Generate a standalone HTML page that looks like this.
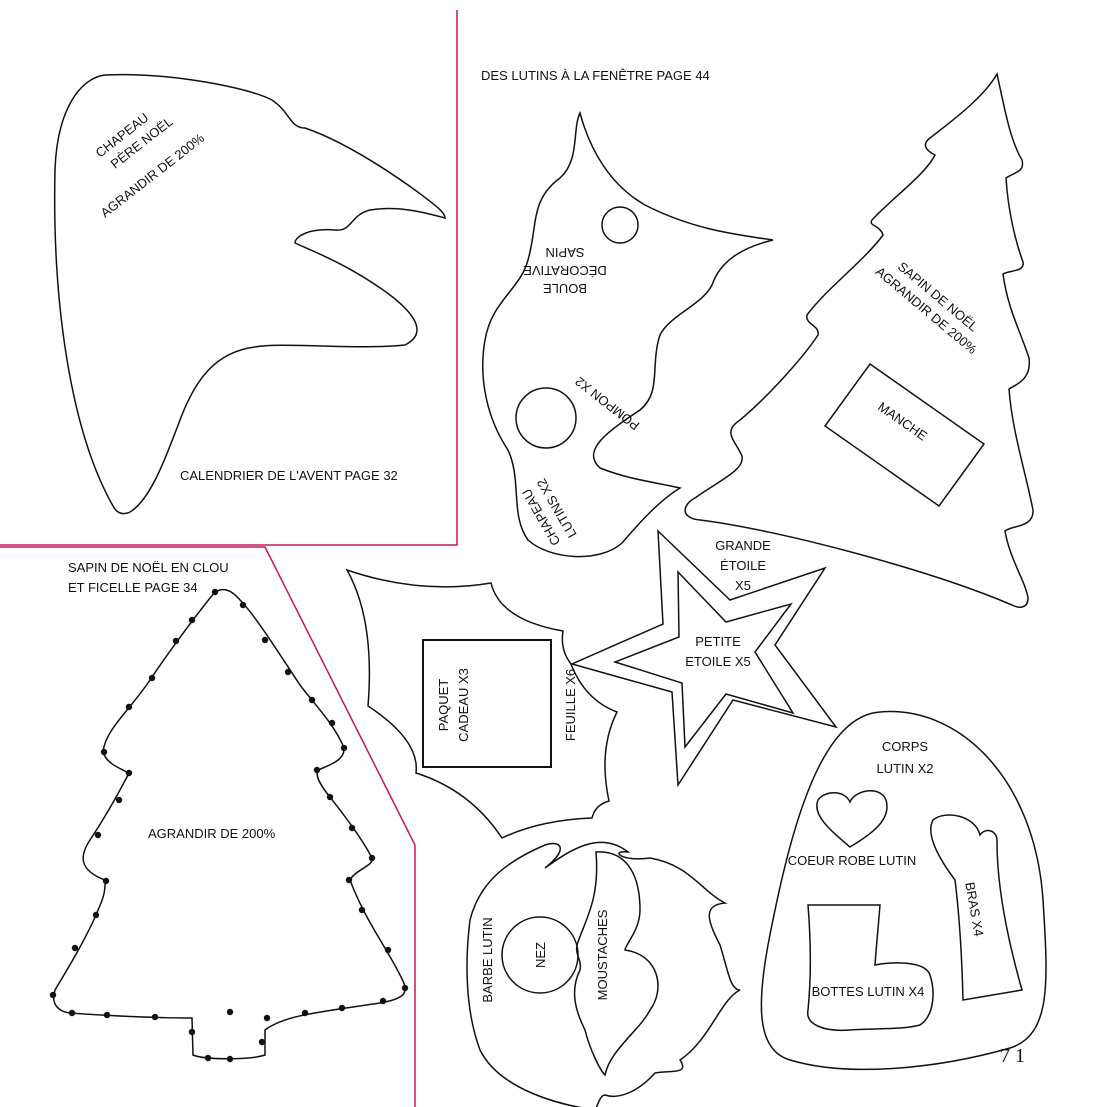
<!DOCTYPE html>
<html><head><meta charset="utf-8"><style>
html,body{margin:0;padding:0;background:#fff}
svg{display:block}
text{font-family:"Liberation Sans",sans-serif;font-size:13px;fill:#111}
</style></head><body>
<svg width="1107" height="1107" viewBox="0 0 1107 1107" xmlns="http://www.w3.org/2000/svg">
<g fill="none" stroke="#c2185b" stroke-width="1.5">
<path d="M457,10 V545 H0"/>
<path d="M0,547 H265 L415,845 V1107"/>
</g>
<g fill="none" stroke="#111" stroke-width="1.5">
<!-- Santa hat -->
<path d="M113,506 C70,430 52,300 55,170 C57,110 80,78 105,75 C170,72 250,88 272,100 C290,112 290,128 305,128 C340,140 380,165 415,190 C435,205 445,212 445,218 C430,214 400,205 370,210 C350,215 352,232 335,230 C310,228 295,236 295,243 C310,250 350,265 390,295 C420,318 425,335 405,345 C360,350 280,342 255,347 C215,352 195,380 180,420 C165,460 150,500 130,512 C122,516 116,512 113,506Z"/>
<!-- elf hat -->
<path d="M580,113 C590,150 610,185 645,205 C690,228 730,234 773,240 C740,248 720,262 712,285 C702,305 670,315 660,335 C650,365 662,392 640,410 C610,430 580,450 600,468 C630,480 660,483 680,488 C660,500 640,522 622,543 C600,563 550,560 528,540 C510,515 522,480 508,450 C488,420 478,380 485,340 C492,300 520,290 528,260 C538,225 530,200 560,178 C580,160 572,130 580,113Z"/>
<circle cx="620" cy="225" r="18"/>
<circle cx="546" cy="418" r="30"/>
<!-- big tree -->
<path d="M997,74 C1005,110 1010,140 1022,160 C1025,172 1015,172 1006,178 C1008,210 1015,240 1023,262 C1025,272 1010,270 1003,274 C1008,310 1020,330 1029,358 C1032,380 1015,385 1009,389 C1012,430 1025,470 1033,510 C1034,528 1012,525 1005,531 C1010,560 1025,580 1028,598 C1028,608 1020,609 1012,605 C930,570 780,530 700,520 C680,518 682,505 695,498 C720,480 745,470 742,456 C735,440 722,432 740,420 C770,395 805,355 818,335 C820,325 805,325 807,315 C825,290 865,260 883,235 C880,225 868,226 872,220 C890,200 925,175 935,155 C925,150 922,144 930,138 C960,115 985,95 997,74Z"/>
<path d="M870,364 L984,444 L939,506 L825,426Z"/>
<!-- stars -->
<path d="M658,531 L730,600 L825,568 L775,645 L836,727 L733,700 L678,785 L672,692 L572,664 L663,624Z"/>
<path d="M678,572 L726,622 L791,604 L755,652 L793,713 L726,694 L685,747 L682,683 L615,662 L679,637Z"/>
<!-- holly leaf -->
<path d="M347,570 Q420,595 491,583 Q500,620 563,631 Q560,650 571,664 Q585,700 617,712 Q598,750 609,801 Q595,805 592,818 Q540,820 502,838 Q470,790 416,773 Q420,740 368,706 Q375,620 347,570Z"/>
<rect x="423" y="640" width="128" height="127" stroke-width="2"/>
<!-- beard -->
<path d="M545,845 C560,840 570,848 545,868 C570,850 600,830 628,852 C610,850 620,862 650,858 C690,865 700,890 725,903 C700,905 710,925 720,945 C728,970 730,990 740,990 C720,1000 710,1040 680,1060 C690,1075 670,1070 655,1073 C640,1090 620,1100 605,1095 C600,1095 598,1105 595,1110 C560,1105 500,1090 480,1050 C465,1010 465,960 470,920 C480,880 510,860 545,845Z"/>
<path d="M596,852 C630,850 640,880 640,910 C640,930 625,945 625,950 C660,955 665,990 650,1010 C640,1030 610,1050 605,1075 C600,1070 590,1050 585,1030 C575,1010 570,990 580,970 C582,960 575,955 577,945 C585,920 600,900 596,852Z"/>
<circle cx="540" cy="955" r="38"/>
<!-- body -->
<path d="M880,712 C960,705 1035,780 1043,900 C1048,980 1052,1035 1010,1048 C940,1068 850,1078 790,1060 C755,1050 758,1000 768,945 C790,830 820,716 880,712Z"/>
<path d="M850,847 C830,830 812,815 818,800 C825,790 845,790 850,802 C855,790 880,785 886,800 C892,820 870,835 850,847Z"/>
<path d="M933,820 C945,810 975,815 980,835 C985,827 998,830 997,842 C997,880 1005,930 1022,990 L963,1000 C962,960 960,920 955,880 C940,860 925,835 933,820Z"/>
<path d="M808,905 L880,905 C878,930 876,950 875,965 C890,962 925,960 930,975 C935,990 935,1015 920,1025 C900,1030 880,1028 850,1030 C825,1032 805,1025 808,1010 C812,970 810,930 808,905Z"/>
<!-- dotted tree -->
<path d="M215,592 C200,610 170,650 150,680 C130,710 105,730 103,752 C108,768 130,770 128,775 C115,800 100,825 90,840 C80,855 78,870 105,880 C106,895 100,905 96,915 C85,940 70,965 55,990 C50,1005 60,1012 70,1013 C110,1016 160,1018 192,1018 L193,1055 C205,1060 250,1060 265,1055 L265,1030 C285,1015 320,1012 380,1003 C410,998 408,990 400,975 C385,945 365,920 350,880 C355,870 375,865 372,858 C360,835 340,810 330,797 C320,785 315,775 318,770 C330,765 345,760 344,748 C335,725 315,705 300,685 C280,655 255,615 240,600 C230,588 222,588 215,592Z"/>
</g>
<g fill="#111">
<circle cx="215" cy="592" r="3.2"/><circle cx="192" cy="620" r="3.2"/><circle cx="176" cy="641" r="3.2"/><circle cx="152" cy="678" r="3.2"/><circle cx="129" cy="707" r="3.2"/><circle cx="104" cy="752" r="3.2"/><circle cx="129" cy="773" r="3.2"/><circle cx="119" cy="800" r="3.2"/><circle cx="98" cy="835" r="3.2"/><circle cx="106" cy="881" r="3.2"/><circle cx="96" cy="915" r="3.2"/><circle cx="75" cy="948" r="3.2"/><circle cx="53" cy="995" r="3.2"/><circle cx="72" cy="1013" r="3.2"/><circle cx="107" cy="1015" r="3.2"/><circle cx="155" cy="1017" r="3.2"/><circle cx="192" cy="1032" r="3.2"/><circle cx="208" cy="1058" r="3.2"/><circle cx="230" cy="1059" r="3.2"/><circle cx="262" cy="1042" r="3.2"/><circle cx="230" cy="1012" r="3.2"/><circle cx="267" cy="1018" r="3.2"/><circle cx="305" cy="1013" r="3.2"/><circle cx="342" cy="1008" r="3.2"/><circle cx="383" cy="1001" r="3.2"/><circle cx="405" cy="988" r="3.2"/><circle cx="388" cy="950" r="3.2"/><circle cx="362" cy="910" r="3.2"/><circle cx="349" cy="880" r="3.2"/><circle cx="372" cy="858" r="3.2"/><circle cx="352" cy="828" r="3.2"/><circle cx="330" cy="797" r="3.2"/><circle cx="317" cy="770" r="3.2"/><circle cx="344" cy="748" r="3.2"/><circle cx="332" cy="723" r="3.2"/><circle cx="312" cy="700" r="3.2"/><circle cx="288" cy="672" r="3.2"/><circle cx="265" cy="640" r="3.2"/><circle cx="243" cy="605" r="3.2"/>
</g>
<text x="481" y="80">DES LUTINS À LA FENÊTRE PAGE 44</text>
<text x="180" y="480">CALENDRIER DE L'AVENT PAGE 32</text>
<text x="68" y="572">SAPIN DE NOËL EN CLOU</text>
<text x="68" y="592">ET FICELLE PAGE 34</text>
<text x="148" y="838">AGRANDIR DE 200%</text>
<g transform="translate(100,158) rotate(-38)"><text x="0" y="0">CHAPEAU</text><text x="5" y="18">PÈRE NOËL</text></g>
<text transform="translate(105,218) rotate(-38)">AGRANDIR DE 200%</text>
<g transform="translate(565,248) rotate(180)" text-anchor="middle"><text x="0" y="0">SAPIN</text><text x="0" y="-18">DÉCORATIVE</text><text x="0" y="-36">BOULE</text></g>
<text transform="translate(610,400) rotate(-142)" text-anchor="middle">POMPON X2</text>
<g transform="translate(545,515) rotate(-120)" text-anchor="middle"><text x="0" y="0">CHAPEAU</text><text x="0" y="18">LUTINS X2</text></g>
<g transform="translate(935,300) rotate(40)" text-anchor="middle"><text x="0" y="0">SAPIN DE NOËL</text><text x="0" y="18">AGRANDIR DE 200%</text></g>
<text transform="translate(900,425) rotate(35)" text-anchor="middle">MANCHE</text>
<g text-anchor="middle"><text x="743" y="550">GRANDE</text><text x="743" y="570">ÉTOILE</text><text x="743" y="590">X5</text>
<text x="718" y="646">PETITE</text><text x="718" y="666">ETOILE X5</text>
<text x="905" y="751">CORPS</text><text x="905" y="773">LUTIN X2</text>
<text x="852" y="865">COEUR ROBE LUTIN</text>
<text x="868" y="996">BOTTES LUTIN X4</text></g>
<g transform="translate(448,705) rotate(-90)" text-anchor="middle"><text x="0" y="0">PAQUET</text><text x="0" y="20">CADEAU X3</text></g>
<text transform="translate(575,705) rotate(-90)" text-anchor="middle">FEUILLE X6</text>
<text transform="translate(492,960) rotate(-90)" text-anchor="middle">BARBE LUTIN</text>
<text transform="translate(545,955) rotate(-90)" text-anchor="middle">NEZ</text>
<text transform="translate(607,955) rotate(-90)" text-anchor="middle">MOUSTACHES</text>
<text transform="translate(970,910) rotate(80)" text-anchor="middle">BRAS X4</text>
<text x="1000" y="1062" style="font-family:'Liberation Serif',serif;font-size:20px">7 1</text>
</svg>
</body></html>
